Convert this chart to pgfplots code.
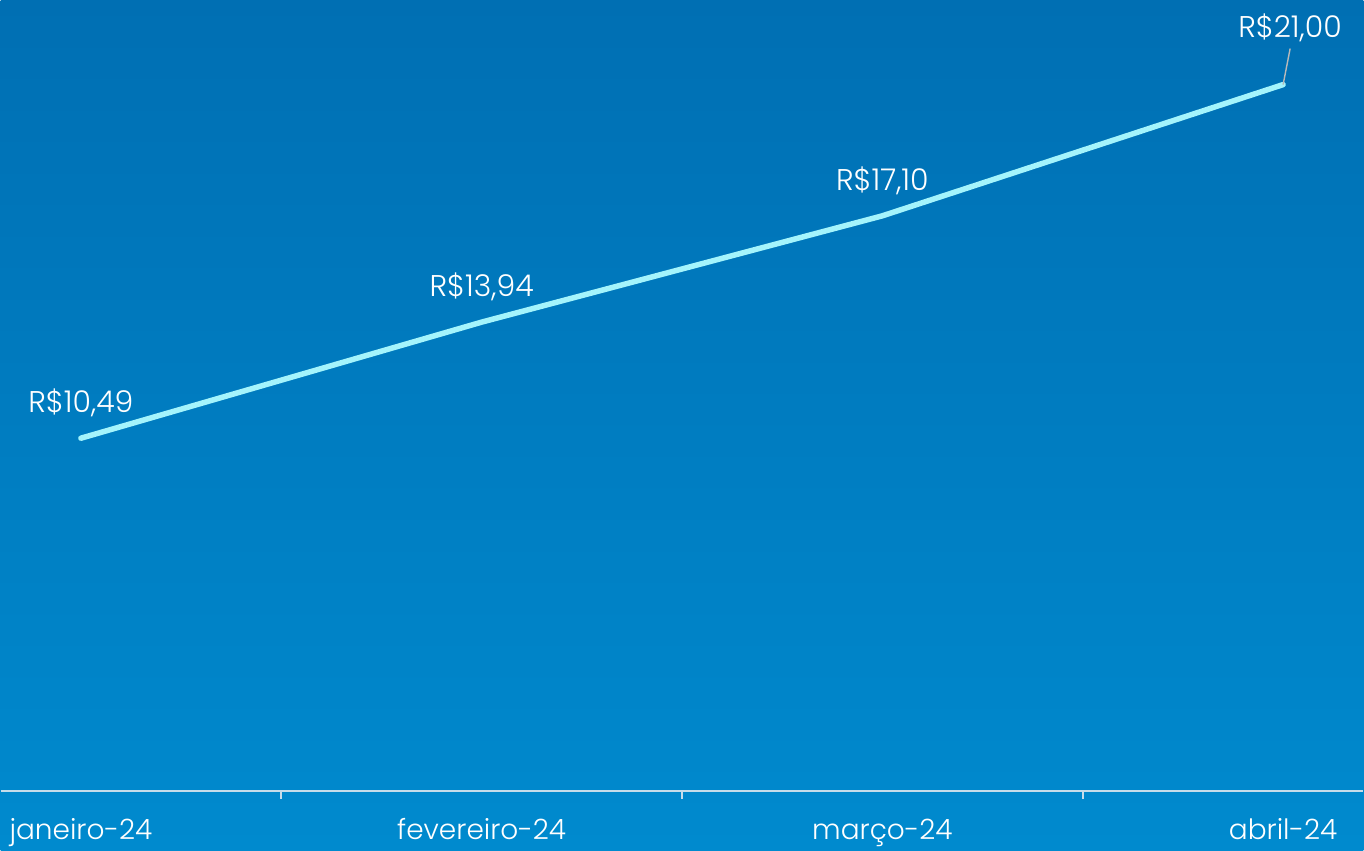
\documentclass[border=0pt]{standalone}
\usepackage{fontspec}
\setmainfont{Poppins}[UprightFont=* Light]
\usepackage{pgfplots}
\pgfplotsset{compat=1.18}
\usetikzlibrary{backgrounds}
\definecolor{bgtop}{HTML}{006FB3}
\definecolor{bgbot}{HTML}{008ACE}
\definecolor{linec}{HTML}{A4F4FC}
\definecolor{axc}{HTML}{C6DCEA}
\begin{document}
\begin{tikzpicture}
\begin{axis}[
  scale only axis, width=1364pt, height=792pt,
  xmin=-0.2, xmax=3.2, ymin=0, ymax=23.515,
  axis y line=none,
  axis x line*=bottom,
  x axis line style={draw=axc, line width=1.5pt},
  xtick={0,1,2,3},
  xticklabels={janeiro-24,fevereiro-24,março-24,abril-24},
  major tick length=0pt,
  extra x ticks={0.5,1.5,2.5},
  extra x tick labels={},
  extra x tick style={major tick length=8pt, tick align=outside, tick style={draw=axc, line width=1.6pt}},
  xticklabel style={anchor=base, yshift=-48pt, text=white, font=\fontsize{28}{32}\selectfont},
  clip=false,
]
\addplot[linec, line width=5.5pt, line cap=round, line join=round] coordinates {
  (0,10.49) (1,13.94) (2,17.10) (3,21.00)
};
\addplot[draw=none, point meta=explicit symbolic,
  nodes near coords=\pgfplotspointmeta,
  every node near coord/.style={anchor=center, yshift=35pt, text=white, font=\fontsize{30}{34}\selectfont}]
  coordinates {
  (0,10.49) [R\$10,49]
  (1,13.94) [R\$13,94]
  (2,17.10) [R\$17,10]
};
\addplot[gray!55, line width=1.4pt] coordinates {(3,21.00) (3.0175,22.07)};
\addplot[draw=none, point meta=explicit symbolic,
  nodes near coords=\pgfplotspointmeta,
  every node near coord/.style={anchor=center, xshift=7pt, yshift=57pt, text=white, font=\fontsize{30}{34}\selectfont}]
  coordinates {
  (3,21.00) [R\$21,00]
};
\end{axis}
\begin{pgfonlayer}{background}
\shade[top color=bgtop, bottom color=bgbot] ([yshift=-59pt]current axis.south west) rectangle (current axis.north east);
\end{pgfonlayer}
\useasboundingbox ([yshift=-59pt]current axis.south west) rectangle (current axis.north east);
\end{tikzpicture}
\end{document}
